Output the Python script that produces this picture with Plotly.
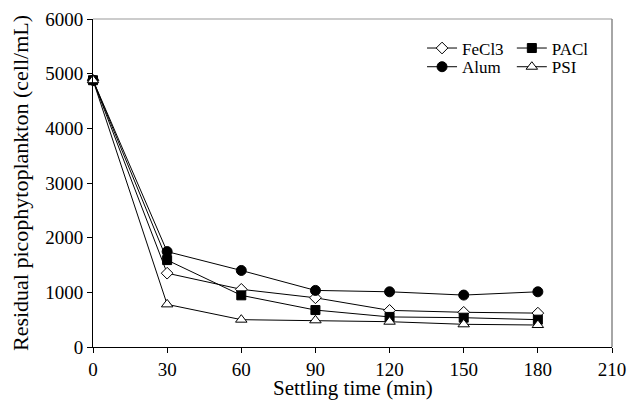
import plotly.graph_objects as go

time = [0, 30, 60, 90, 120, 150, 180]
fecl3 = [4880, 1350, 1055, 900, 670, 635, 620]
pacl = [4880, 1590, 945, 676, 550, 536, 500]
alum = [4880, 1745, 1400, 1035, 1010, 950, 1010]
psi = [4880, 780, 500, 488, 463, 415, 402]

font = "Liberation Serif, serif"

fig = go.Figure()
def add(name, y, symbol, size, fill, legend):
    fig.add_trace(go.Scatter(
        x=time, y=y, name=name, mode="lines+markers",
        line=dict(color="black", width=1),
        marker=dict(symbol=symbol, size=size, color=fill,
                    line=dict(color="black", width=1)),
        cliponaxis=False,
        legend=legend))

add("FeCl3", fecl3, "diamond", 9, "white", "legend")
add("PACl", pacl, "square", 9, "black", "legend2")
add("Alum", alum, "circle", 10, "black", "legend3")
add("PSI", psi, "triangle-up", 10, "white", "legend4")

lfont = dict(size=17, family=font, color="black")
def leg(x, y):
    return dict(x=x, y=y, xanchor="left", yanchor="top",
                bgcolor="rgba(0,0,0,0)", font=lfont, itemwidth=30)

fig.update_layout(
    width=629, height=401,
    margin=dict(l=93, r=17, t=19, b=54, autoexpand=False),
    plot_bgcolor="white", paper_bgcolor="white",
    font=dict(family=font, size=19, color="black"),
    showlegend=True,
    legend=leg(0.634, 0.965),
    legend2=leg(0.807, 0.965),
    legend3=leg(0.634, 0.908),
    legend4=leg(0.807, 0.908),
)
tfont = dict(family=font, size=19, color="black")
fig.update_xaxes(range=[0, 210], tickvals=[0, 30, 60, 90, 120, 150, 180, 210],
                 showline=True, linecolor="black", linewidth=1,
                 ticks="outside", ticklen=5, tickcolor="black", tickfont=tfont,
                 showgrid=False, zeroline=False, automargin=False)
fig.update_yaxes(range=[0, 6000], tickvals=[0, 1000, 2000, 3000, 4000, 5000, 6000],
                 showline=True, linecolor="black", linewidth=1,
                 ticks="outside", ticklen=5, tickcolor="black", tickfont=tfont,
                 showgrid=False, zeroline=False, automargin=False,
                 title=dict(text="Residual picophytoplankton (cell/mL)", font=dict(family=font, size=22), standoff=10))
fig.add_annotation(text="Settling time (min)", xref="paper", yref="paper",
                   x=0.5, y=0, xanchor="center", yanchor="top", yshift=-27,
                   showarrow=False, font=dict(family=font, size=21, color="black"))
fig.add_shape(type="line", xref="paper", yref="paper", x0=0, x1=1, y0=1, y1=1,
              line=dict(color="#999999", width=1))
fig.add_shape(type="line", xref="paper", yref="paper", x0=1, x1=1, y0=0, y1=1,
              line=dict(color="#888888", width=1.5))
fig.write_html("out.html")
